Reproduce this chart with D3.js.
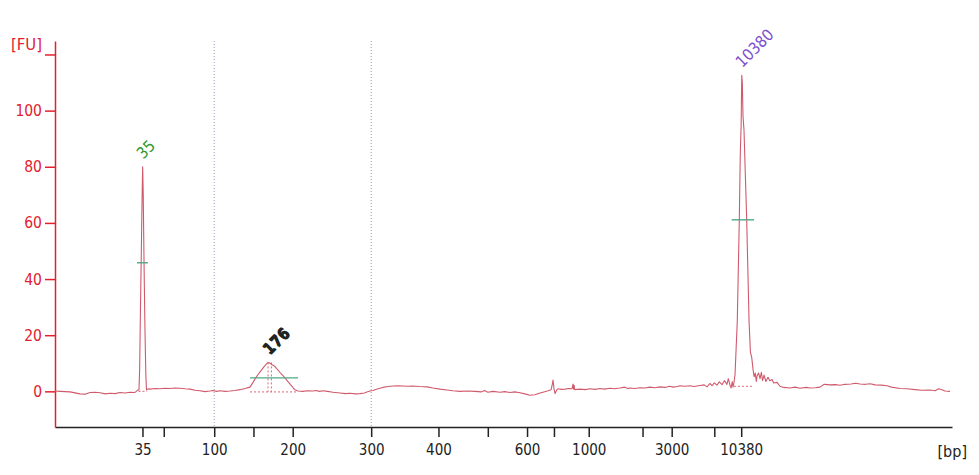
<!DOCTYPE html>
<html>
<head>
<meta charset="utf-8">
<script src="https://cdn.jsdelivr.net/npm/d3@7"></script>
<style>
  html, body { margin: 0; padding: 0; background: #ffffff; }
  svg { display: block; }
  text { font-family: "DejaVu Sans Condensed", "DejaVu Sans", sans-serif; }
</style>
</head>
<body>
<svg id="chart" width="979" height="475"></svg>
<script>
// ---------- DATA ----------
// Ladder (x axis): migration time (s) and bp labels
const ladderTime  = [47.8, 49.7, 54.2, 57.7, 61.2, 68.2, 74.2, 78.6, 82.1, 84.5, 87.6, 92.4, 95.0, 98.8, 101.2];
const ladderLabel = ["35", "", "100", "", "200", "300", "400", "", "600", "", "1000", "", "3000", "", "10380"];
// Region boundaries (dotted vertical lines), in seconds
const regionTime = [54.2, 68.2];
// Y ticks
const yTicks = [0, 20, 40, 60, 80, 100, 120];
const yTickLabel = ["0", "20", "40", "60", "80", "100", ""];

// Electropherogram trace: time (s) and fluorescence (FU)
const traceTime = [40.00,40.45,41.34,42.23,42.70,43.12,43.57,44.01,44.50,44.91,45.35,45.80,46.25,46.69,47.10,47.22,47.40,
  47.49,47.55,47.60,47.70,47.78,47.82,47.87,47.94,48.02,48.10,48.16,
  48.29,48.47,48.90,49.36,49.80,50.26,50.70,51.15,51.60,52.04,52.50,52.93,53.38,53.80,54.09,54.40,54.72,55.20,55.61,56.05,
  56.50,56.95,57.39,57.66,57.90,58.11,58.30,58.46,58.65,58.82,59.00,59.09,59.25,59.36,59.50,59.62,59.75,59.89,60.05,60.16,
  60.35,60.51,60.70,60.87,61.00,61.14,61.28,61.40,61.55,61.67,62.12,62.50,63.01,63.30,63.60,63.90,64.30,64.79,65.42,65.90,
  66.31,66.80,67.20,67.60,67.82,68.10,68.36,68.80,69.25,69.70,70.15,70.60,71.04,71.50,71.93,72.50,73.18,73.71,74.34,74.96,
  75.50,76.12,76.80,77.46,78.00,78.30,78.60,79.06,79.69,80.10,80.58,81.00,81.47,81.90,82.36,82.80,83.26,83.60,83.97,84.24,
  84.33,84.42,84.50,84.60,84.75,84.86,85.20,85.49,85.80,86.11,86.20,86.25,86.29,86.35,86.82,87.30,87.71,88.20,88.61,89.00,
  89.50,89.90,90.39,90.80,91.10,91.28,91.70,92.17,92.60,93.06,93.50,93.96,94.40,94.80,95.12,95.50,95.74,96.20,96.63,97.00,
  97.52,97.90,98.15,98.40,98.60,98.80,99.04,99.25,99.49,99.70,99.93,100.05,100.20,100.30,100.40,100.47,100.55,
  100.65,100.85,101.03,101.12,101.19,101.25,101.30,101.36,101.45,101.69,101.90,102.02,102.14,102.25,102.35,102.45,102.55,
  102.61,102.75,102.88,103.00,103.10,103.24,103.40,103.59,103.75,103.95,104.10,104.40,104.66,105.00,105.56,106.00,106.44,
  107.00,107.33,107.80,108.23,108.60,109.12,109.60,110.00,110.46,111.00,111.40,111.80,112.30,112.70,113.14,113.70,114.21,
  114.60,115.37,116.00,116.71,117.30,118.04,118.50,118.80,119.10,119.38,119.82];
const traceFU = [0.1,0.0,-0.2,-0.9,-1.0,-0.4,-0.3,-0.5,-0.9,-0.7,-0.8,-0.4,-0.6,-0.3,-0.4,-0.1,0.5,
  0.5,8,23,50,72,80,70,46,23,6,0.5,
  0.9,0.8,1.0,0.9,1.1,1.0,1.2,1.1,0.9,0.8,0.4,0.2,-0.1,0.1,0.3,0.0,0.2,0.0,0.1,0.3,
  0.6,1.0,1.5,3.2,4.8,6.0,7.0,7.8,8.8,9.6,10.3,10.2,9.8,9.5,9.2,8.8,8.2,7.6,6.8,6.3,
  5.5,4.8,3.8,3.0,2.4,1.8,1.0,0.6,0.3,0.1,0.0,0.2,0.1,0.3,0.0,0.2,0.0,-0.3,-0.6,-0.8,
  -0.7,-0.9,-0.8,-0.6,-0.2,0.1,0.3,0.9,1.4,1.7,1.9,2.0,1.9,1.8,1.9,1.7,1.6,1.2,0.8,0.5,
  0.2,0.0,0.1,0.0,-0.2,0.3,-0.3,0.0,-0.3,-0.1,-0.4,-0.2,-0.5,-0.9,-1.4,-1.2,-0.6,-0.2,0.2,0.6,
  2.0,4.0,1.0,-0.8,0.5,0.9,0.7,0.8,1.0,0.9,2.6,0.8,2.2,0.6,0.8,0.6,0.9,0.7,1.0,0.8,
  1.1,0.9,1.2,1.5,1.0,1.2,1.0,1.3,1.2,1.5,1.3,1.6,1.4,1.8,1.5,1.7,2.0,1.8,2.0,1.7,
  2.1,2.3,1.6,2.8,2.0,3.0,2.2,3.4,2.4,3.8,2.5,4.5,2.2,1.2,3.5,1.5,3.0,
  6,25,61,85,94,112.6,110,98,93,61,25,14,12,8,5.2,6.5,3.5,
  5.5,6.5,4.5,6.8,3.8,5.8,3.5,5.0,3.8,4.2,3.0,3.2,1.8,1.4,1.2,1.5,1.1,
  1.4,1.2,1.3,1.5,2.5,2.3,2.4,2.2,2.5,2.6,2.9,2.6,2.5,2.7,2.3,2.2,2.0,
  1.5,1.0,0.9,0.6,0.4,0.5,0.2,0.9,0.6,0.1,0.0];

// Called peaks
const peakLabel = ["35", "176", "10380"];
const peakTime  = [47.82, 59.05, 101.25];
const peakFU    = [80, 10.3, 112.6];
const peakColor = ["#2f9a2f", "#222222", "#7b4fcf"];
// Half-height (width) markers: start time, end time, FU
const halfStart = [47.31, 57.39, 100.35];
const halfEnd   = [48.29, 61.67, 102.35];
const halfFU    = [45.8, 4.8, 61.1];
// Peak baselines (dotted): start time, end time, FU
const baseStart = [47.45, 57.39, 100.55];
const baseEnd   = [48.20, 61.67, 102.30];
const baseFU    = [0.0, -0.2, 1.8];

// ---------- CHART ----------
const svg = d3.select("#chart");
const margin = {left: 55, right: 27, top: 41, bottom: 48};
const W = 979, H = 475;

const x = d3.scaleLinear().domain([40, 120]).range([margin.left, W - margin.right]);
const y = d3.scaleLinear().domain([-12.7, 124.8]).range([H - margin.bottom, margin.top]);

const red = "#e3202f";

// dotted region lines
svg.append("g").selectAll("line").data(regionTime).join("line")
  .attr("x1", d => x(d)).attr("x2", d => x(d))
  .attr("y1", y(124.8)).attr("y2", y(-12.7))
  .attr("stroke", "#9a9ab8").attr("stroke-width", 1)
  .attr("stroke-dasharray", "1,2");

// x axis
const xAxis = d3.axisBottom(x).tickValues(ladderTime)
  .tickFormat((d, i) => ladderLabel[i]).tickSize(10).tickSizeOuter(0).tickPadding(7);
const gx = svg.append("g").attr("transform", `translate(0,${y(-12.7)})`).call(xAxis);
gx.select(".domain").attr("stroke", "#222").attr("stroke-width", 1.5);
gx.selectAll(".tick line").attr("stroke", "#222").attr("stroke-width", 1.5);
gx.selectAll(".tick text").attr("fill", "#222").style("font-size", "15px");

svg.append("text").attr("x", 967).attr("y", 457).attr("text-anchor", "end")
  .attr("fill", "#222").style("font-size", "16px").text("[bp]");

// y axis
const yAxis = d3.axisLeft(y).tickValues(yTicks)
  .tickFormat((d, i) => yTickLabel[i]).tickSize(10).tickSizeOuter(0).tickPadding(3);
const gy = svg.append("g").attr("transform", `translate(${margin.left},0)`).call(yAxis);
gy.select(".domain").attr("stroke", red).attr("stroke-width", 1.5);
gy.selectAll(".tick line").attr("stroke", red).attr("stroke-width", 1.5);
gy.selectAll(".tick text").attr("fill", red).style("font-size", "15.5px");

svg.append("text").attr("x", 42).attr("y", 50).attr("text-anchor", "end")
  .attr("fill", red).style("font-size", "16.5px").text("[FU]");

// peak baselines (dotted)
const pk = d3.range(peakLabel.length);
svg.append("g").selectAll("line").data(pk).join("line")
  .attr("x1", i => x(baseStart[i])).attr("x2", i => x(baseEnd[i]))
  .attr("y1", i => y(baseFU[i])).attr("y2", i => y(baseFU[i]))
  .attr("stroke", "#d86a78").attr("stroke-width", 1).attr("stroke-dasharray", "2,2");
// dotted vertical at the 176 peak
svg.append("g").selectAll("line").data([peakTime[1] - 0.05, peakTime[1] + 0.25]).join("line")
  .attr("x1", d => x(d)).attr("x2", d => x(d))
  .attr("y1", y(peakFU[1])).attr("y2", y(baseFU[1]))
  .attr("stroke", "#d86a78").attr("stroke-width", 1).attr("stroke-dasharray", "2,2");

// trace
const pts = traceTime.map((t, i) => [t, traceFU[i]]);
svg.append("path").datum(pts)
  .attr("fill", "none").attr("stroke", "#d05a6c").attr("stroke-width", 1.1)
  .attr("stroke-linejoin", "round")
  .attr("d", d3.line().x(d => x(d[0])).y(d => y(d[1])));

// half-height markers
svg.append("g").selectAll("line").data(pk).join("line")
  .attr("x1", i => x(halfStart[i])).attr("x2", i => x(halfEnd[i]))
  .attr("y1", i => y(halfFU[i])).attr("y2", i => y(halfFU[i]))
  .attr("stroke", "#4fa886").attr("stroke-width", 1.4);

// peak labels
const lbl = svg.append("g");
pk.forEach(i => {
  const px = x(peakTime[i]) + 0.5, py = y(peakFU[i]) - 7;
  const offsets = i === 1 ? [[0, 0], [1.2, 0.6]] : [[0, 0]];
  offsets.forEach(o => {
    lbl.append("text")
      .attr("transform", `translate(${px + o[0]},${py + o[1]}) rotate(-45)`)
      .attr("fill", peakColor[i])
      .style("font-size", "16px")
      .style("font-weight", i === 1 ? "bold" : "normal")
      .text(peakLabel[i]);
  });
});
</script>
</body>
</html>
